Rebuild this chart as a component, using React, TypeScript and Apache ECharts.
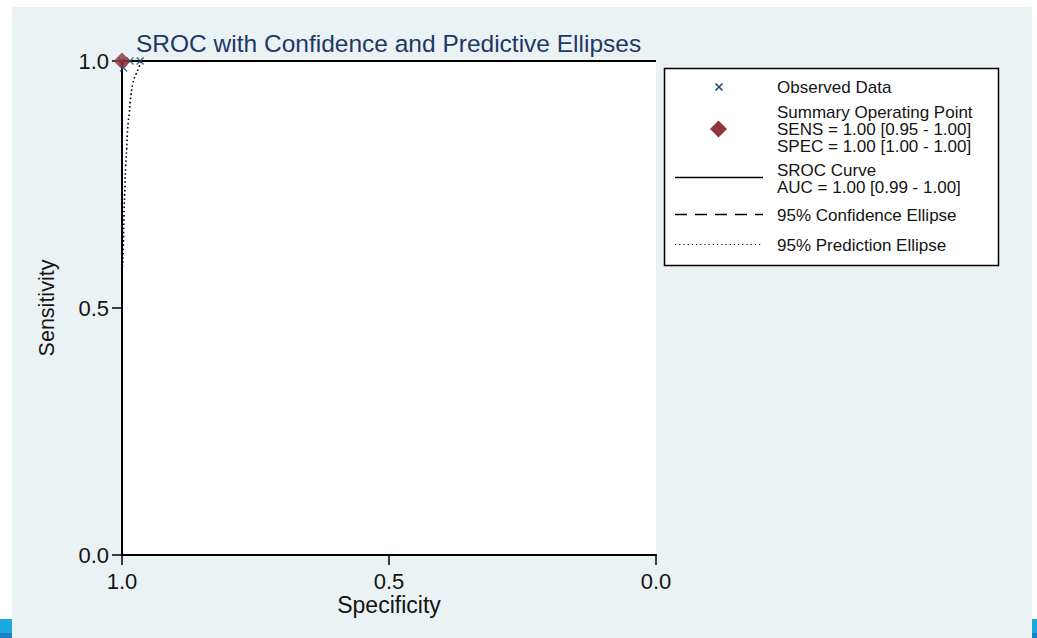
import { useEffect, useRef } from "react";
import * as echarts from "echarts";

// Axis ticks (both axes run 0..1, specificity is reversed)
const TICK_STEP = 0.5;

// Observed studies: specificity / sensitivity pairs
const observedSpec = [1.0, 0.985, 0.966, 0.997];
const observedSens = [1.0, 1.0, 1.0, 0.986];

// Summary operating point
const summarySpec = [1.0];
const summarySens = [1.0];

// SROC curve (AUC ~ 1.00, hugs the top-left corner)
const srocSpec = [1.0, 1.0, 0.999, 0.996, 0.5, 0.0];
const srocSens = [0.0, 0.995, 0.999, 1.0, 1.0, 1.0];

// 95% confidence ellipse (tiny, around the summary point)
const confSpec = [1.0, 0.999, 0.998, 0.9985, 1.0];
const confSens = [0.985, 0.988, 0.995, 1.0, 1.0];

// 95% prediction ellipse (visible arc)
const predSpec = [0.9991, 0.9976, 0.9963, 0.9944, 0.9931, 0.9912, 0.9901, 0.9882, 0.9863, 0.985, 0.9831, 0.9818, 0.98, 0.9775, 0.9743, 0.9695, 0.9644];
const predSens = [0.583, 0.623, 0.688, 0.749, 0.787, 0.822, 0.85, 0.877, 0.895, 0.915, 0.931, 0.943, 0.953, 0.964, 0.972, 0.984, 0.998];

// Legend texts
const legendObserved = ["Observed Data"];
const legendSummary = ["Summary Operating Point", "SENS = 1.00 [0.95 - 1.00]", "SPEC = 1.00 [1.00 - 1.00]"];
const legendSroc = ["SROC Curve", "AUC = 1.00 [0.99 - 1.00]"];
const legendConf = ["95% Confidence Ellipse"];
const legendPred = ["95% Prediction Ellipse"];

const FONT = "'Liberation Sans', Arial, Helvetica, sans-serif";
const NAVY = "#1a476f";
const MAROON = "#90353b";
const PANEL = "#eaf2f3";
const INK = "#141414";
const LEGEND_FONT = 17;
const LEGEND_LINE_H = 17;

const zip = (a: number[], b: number[]) => a.map((v, i) => [v, b[i]]);

const X_MARK = "path://M0,1.2L1.2,0L5,3.8L8.8,0L10,1.2L6.2,5L10,8.8L8.8,10L5,6.2L1.2,10L0,8.8L3.8,5Z";

// One legend entry text block; y is the middle of its first line
function legendText(lines: string[], x: number, y: number) {
  return {
    type: "text",
    z: 10,
    style: {
      text: lines.join("\n"),
      x,
      y: y - LEGEND_LINE_H / 2,
      fontSize: LEGEND_FONT,
      lineHeight: LEGEND_LINE_H,
      fontFamily: FONT,
      fill: INK,
      align: "left",
      verticalAlign: "top",
    },
  };
}

export default function App() {
  const ref = useRef<HTMLDivElement>(null);

  useEffect(() => {
    if (!ref.current) return;
    const chart = echarts.init(ref.current, undefined, { renderer: "svg" });

    const lx = 777;
    const graphic: any[] = [
      { type: "rect", z: -10, shape: { x: 12, y: 7, width: 1020, height: 631 }, style: { fill: PANEL } },
      { type: "rect", z: 10, shape: { x: 0, y: 619, width: 12, height: 14 }, style: { fill: "#1ba9e1" } },
      { type: "rect", z: 10, shape: { x: 0, y: 633, width: 12, height: 5 }, style: { fill: "#1e7fc1" } },
      { type: "rect", z: 10, shape: { x: 1032, y: 619, width: 5, height: 14 }, style: { fill: "#1ba9e1" } },
      { type: "rect", z: 10, shape: { x: 1032, y: 633, width: 5, height: 5 }, style: { fill: "#1e7fc1" } },
      // legend box
      { type: "rect", z: 9, shape: { x: 664.5, y: 68.5, width: 334, height: 197 }, style: { fill: "#ffffff", stroke: "#000", lineWidth: 1.5 } },
      // observed marker
      { type: "line", z: 10, shape: { x1: 715.5, y1: 83.5, x2: 722.5, y2: 90.5 }, style: { stroke: NAVY, lineWidth: 1.6 } },
      { type: "line", z: 10, shape: { x1: 722.5, y1: 83.5, x2: 715.5, y2: 90.5 }, style: { stroke: NAVY, lineWidth: 1.6 } },
      legendText(legendObserved, lx, 87.5),
      // summary diamond
      { type: "polygon", z: 10, shape: { points: [[718.5, 120.5], [727, 129], [718.5, 137.5], [710, 129]] }, style: { fill: MAROON } },
      legendText(legendSummary, lx, 112),
      // SROC line
      { type: "line", z: 10, shape: { x1: 675, y1: 177.5, x2: 763, y2: 177.5 }, style: { stroke: "#000", lineWidth: 1.6 } },
      legendText(legendSroc, lx, 170),
      // confidence ellipse
      { type: "line", z: 10, shape: { x1: 675, y1: 214.5, x2: 763, y2: 214.5 }, style: { stroke: "#000", lineWidth: 1.6, lineDash: [12, 8] } },
      legendText(legendConf, lx, 215),
      // prediction ellipse
      { type: "line", z: 10, shape: { x1: 675, y1: 244.5, x2: 763, y2: 244.5 }, style: { stroke: "#000", lineWidth: 1.2, lineDash: [1.2, 3] } },
      legendText(legendPred, lx, 245),
    ];

    const axisCommon = {
      type: "value" as const,
      min: 0,
      max: 1,
      interval: TICK_STEP,
      splitLine: { show: false },
      axisLine: { show: true, onZero: false, lineStyle: { color: "#000", width: 2 } },
      axisTick: { show: true, length: 10, lineStyle: { color: "#000", width: 1.5 } },
      axisLabel: {
        formatter: (v: number) => v.toFixed(1),
        fontSize: 22,
        fontFamily: FONT,
        color: INK,
      },
      nameLocation: "middle" as const,
      nameMoveOverlap: false,
    };

    chart.setOption({
      animation: false,
      backgroundColor: "#ffffff",
      title: {
        text: "SROC with Confidence and Predictive Ellipses",
        left: 136,
        top: 31,
        padding: 0,
        textStyle: { fontSize: 24.5, fontWeight: "normal", fontFamily: FONT, color: "#1e3868" },
      },
      grid: {
        left: 122,
        top: 61,
        width: 534,
        height: 494,
        show: true,
        backgroundColor: "#ffffff",
        borderWidth: 0,
      },
      xAxis: {
        ...axisCommon,
        inverse: true,
        name: "Specificity",
        nameGap: 38,
        nameTextStyle: { fontSize: 23, fontFamily: FONT, color: INK },
        axisLabel: { ...axisCommon.axisLabel, margin: 15 },
      },
      yAxis: {
        ...axisCommon,
        name: "Sensitivity",
        nameGap: 64,
        nameTextStyle: { fontSize: 21.5, fontFamily: FONT, color: INK },
        axisLabel: { ...axisCommon.axisLabel, margin: 13 },
      },
      graphic,
      series: [
        {
          name: "SROC Curve",
          type: "line",
          data: zip(srocSpec, srocSens),
          showSymbol: false,
          clip: false,
          lineStyle: { color: "#000", width: 2 },
          z: 2,
        },
        {
          name: "95% Confidence Ellipse",
          type: "line",
          data: zip(confSpec, confSens),
          showSymbol: false,
          clip: false,
          lineStyle: { color: "#000", width: 1.5, type: [6, 4] },
          z: 2,
        },
        {
          name: "95% Prediction Ellipse",
          type: "line",
          data: zip(predSpec, predSens),
          showSymbol: false,
          smooth: true,
          clip: false,
          lineStyle: { color: "#000", width: 1.6, type: [1.6, 2.6] },
          z: 2,
        },
        {
          name: "Observed Data",
          type: "scatter",
          data: zip(observedSpec, observedSens),
          symbol: X_MARK,
          symbolSize: 8,
          clip: false,
          itemStyle: { color: NAVY },
          z: 3,
        },
        {
          name: "Summary Operating Point",
          type: "scatter",
          data: zip(summarySpec, summarySens),
          symbol: "diamond",
          symbolSize: [17, 17],
          clip: false,
          itemStyle: { color: MAROON },
          z: 4,
        },
      ],
    });

    return () => chart.dispose();
  }, []);

  return (
    <div
      ref={ref}
      style={{ position: "fixed", left: 0, top: 0, width: 1037, height: 638 }}
    />
  );
}
